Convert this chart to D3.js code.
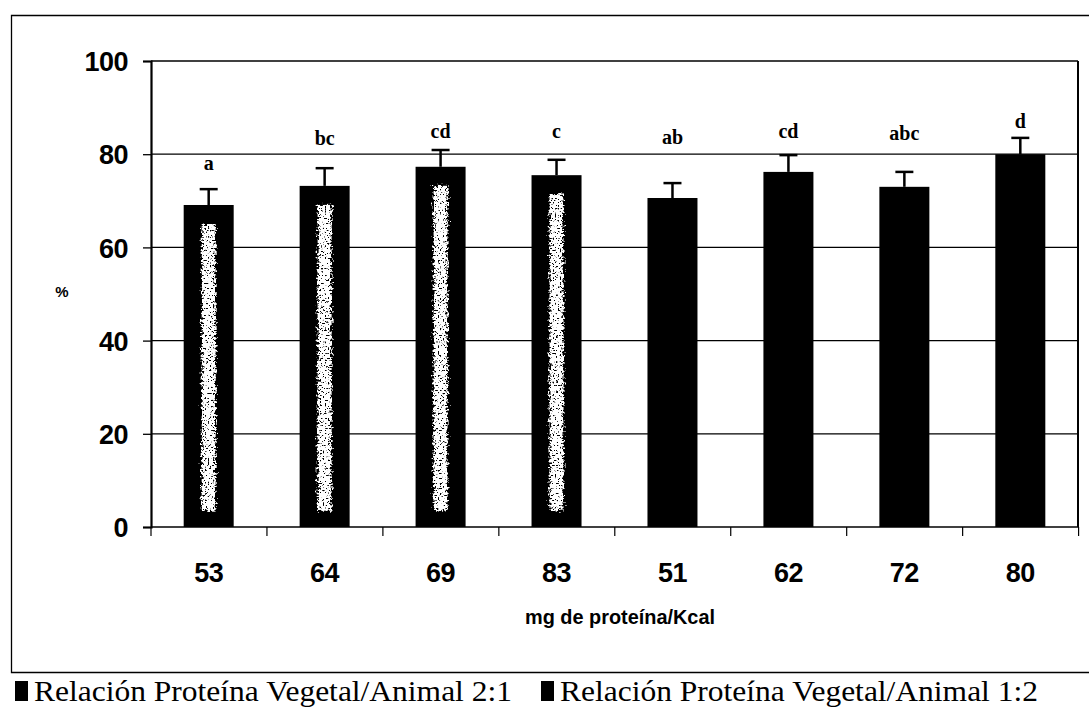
<!DOCTYPE html>
<html>
<head>
<meta charset="utf-8">
<script src="https://cdn.jsdelivr.net/npm/d3@7"></script>
<style>
  html, body { margin: 0; padding: 0; background: #fff; }
  svg { display: block; }
</style>
</head>
<body>
<svg id="chart" width="1089" height="716"></svg>
<script>
// Protein level (mg protein / Kcal) for each diet
const categories = ["53", "64", "69", "83", "51", "62", "72", "80"];
// Plant/animal protein ratio group of each diet
const groups = ["2:1", "2:1", "2:1", "2:1", "1:2", "1:2", "1:2", "1:2"];
// Mean percentage and upper error
const means = [69.1, 73.2, 77.3, 75.5, 70.6, 76.2, 73.0, 80.0];
const errors = [3.4, 3.8, 3.6, 3.3, 3.2, 3.6, 3.2, 3.5];
// Significance letters and the % level at which each is printed
const letters = ["a", "bc", "cd", "c", "ab", "cd", "abc", "d"];
const letterLevels = [78.1, 83.5, 85.0, 85.0, 83.7, 85.0, 84.5, 87.1];
const yTicks = [0, 20, 40, 60, 80, 100];
const legendLabels = ["Relación Proteína Vegetal/Animal 2:1", "Relación Proteína Vegetal/Animal 1:2"];

const svg = d3.select("#chart");
const plot = { left: 151, top: 61, right: 1078, bottom: 527 };

// outer chart border (right side runs off the page)
svg.append("path")
  .attr("d", "M1095,15.5 H11.5 V672.5 H1095")
  .attr("fill", "none").attr("stroke", "#000").attr("stroke-width", 1.3);

const x = d3.scaleBand().domain(categories)
  .range([plot.left, plot.right]).paddingInner(0.565).paddingOuter(0.28);
const y = d3.scaleLinear().domain([0, 100]).range([plot.bottom, plot.top]);

const g = svg.append("g");

// gridlines
g.selectAll("line.grid").data(yTicks.filter(t => t > 0 && t < 100)).join("line")
  .attr("x1", plot.left).attr("x2", plot.right)
  .attr("y1", d => y(d)).attr("y2", d => y(d))
  .attr("stroke", "#000").attr("stroke-width", 1.2);

// plot frame
g.append("line").attr("x1", plot.left).attr("x2", plot.right)
  .attr("y1", plot.top).attr("y2", plot.top).attr("stroke", "#000").attr("stroke-width", 1.3);
g.append("line").attr("x1", plot.right).attr("x2", plot.right)
  .attr("y1", plot.top).attr("y2", plot.bottom).attr("stroke", "#000").attr("stroke-width", 2);

// grainy filter for the light stripe of the 2:1 bars
const defs = svg.append("defs");
const f = defs.append("filter").attr("id", "grain")
  .attr("x", "-50%").attr("y", "-10%").attr("width", "200%").attr("height", "120%");
f.append("feTurbulence").attr("type", "fractalNoise").attr("baseFrequency", "0.4")
  .attr("numOctaves", 2).attr("seed", 3).attr("result", "noise");
f.append("feDisplacementMap").attr("in", "SourceGraphic").attr("in2", "noise")
  .attr("scale", 9).attr("xChannelSelector", "R").attr("yChannelSelector", "G")
  .attr("result", "rough");
f.append("feTurbulence").attr("type", "fractalNoise").attr("baseFrequency", "0.6")
  .attr("numOctaves", 1).attr("seed", 11).attr("result", "speck");
f.append("feColorMatrix").attr("in", "speck").attr("type", "matrix")
  .attr("values", "0 0 0 0 0  0 0 0 0 0  0 0 0 0 0  14 0 0 0 -4.6").attr("result", "holes");
f.append("feComposite").attr("in", "rough").attr("in2", "holes").attr("operator", "in");

// bars
const bw = 50;
const bars = g.selectAll("g.bar").data(categories).join("g").attr("class", "bar");
bars.append("rect")
  .attr("x", d => x(d) + x.bandwidth() / 2 - bw / 2)
  .attr("width", bw)
  .attr("y", (d, i) => y(means[i]))
  .attr("height", (d, i) => y(0) - y(means[i]))
  .attr("fill", "#000");

bars.filter((d, i) => groups[i] === "2:1").append("rect")
  .attr("x", d => x(d) + x.bandwidth() / 2 - 7)
  .attr("width", 14)
  .attr("y", (d, i) => y(means[i]) + 19)
  .attr("height", (d, i) => y(3.5) - y(means[i]) - 19)
  .attr("fill", "#fff")
  .attr("filter", "url(#grain)");

// error bars
bars.append("line")
  .attr("x1", d => x(d) + x.bandwidth() / 2).attr("x2", d => x(d) + x.bandwidth() / 2)
  .attr("y1", (d, i) => y(means[i])).attr("y2", (d, i) => y(means[i] + errors[i]))
  .attr("stroke", "#000").attr("stroke-width", 2.5);
bars.append("line")
  .attr("x1", d => x(d) + x.bandwidth() / 2 - 9).attr("x2", d => x(d) + x.bandwidth() / 2 + 9)
  .attr("y1", (d, i) => y(means[i] + errors[i])).attr("y2", (d, i) => y(means[i] + errors[i]))
  .attr("stroke", "#000").attr("stroke-width", 2.5);

// significance letters
bars.append("text")
  .attr("x", d => x(d) + x.bandwidth() / 2)
  .attr("y", (d, i) => y(letterLevels[i]))
  .attr("dy", "0.35em")
  .attr("text-anchor", "middle")
  .attr("font-family", "Liberation Serif, Times New Roman, serif")
  .attr("font-weight", "bold").attr("font-size", 20)
  .text((d, i) => letters[i]);

// y axis
const yAxis = d3.axisLeft(y).tickValues(yTicks).tickSize(8).tickPadding(15);
const ya = g.append("g").attr("transform", `translate(${plot.left},0)`).call(yAxis);
ya.select(".domain").attr("stroke-width", 2.2);
ya.selectAll(".tick line").attr("stroke-width", 1.3);
ya.selectAll(".tick text")
  .attr("dy", "0.36em")
  .attr("font-family", "Liberation Sans, Arial, sans-serif")
  .attr("font-weight", "bold").attr("font-size", 27).attr("letter-spacing", -0.5).attr("fill", "#000");

// x axis: ticks at category boundaries
const xa = g.append("g").attr("transform", `translate(0,${plot.bottom})`);
xa.append("line").attr("x1", plot.left).attr("x2", plot.right)
  .attr("stroke", "#000").attr("stroke-width", 1.5);
const step = x.step();
const bounds = d3.range(categories.length + 1).map(i => x(categories[0]) - x.paddingOuter() * step + i * step);
xa.selectAll("line.tick").data(bounds).join("line")
  .attr("x1", d => d).attr("x2", d => d).attr("y1", 0).attr("y2", 9)
  .attr("stroke", "#000").attr("stroke-width", 1.2);
xa.selectAll("text").data(categories).join("text")
  .attr("x", d => x(d) + x.bandwidth() / 2)
  .attr("y", 55)
  .attr("text-anchor", "middle")
  .attr("font-family", "Liberation Sans, Arial, sans-serif")
  .attr("font-weight", "bold").attr("font-size", 27).attr("letter-spacing", -0.5)
  .text(d => d);

// axis titles
svg.append("text").attr("x", 620).attr("y", 624).attr("text-anchor", "middle")
  .attr("font-family", "Liberation Sans, Arial, sans-serif")
  .attr("font-weight", "bold").attr("font-size", 20)
  .attr("textLength", 190).attr("lengthAdjust", "spacingAndGlyphs")
  .text("mg de proteína/Kcal");
svg.append("text").attr("x", 62).attr("y", 297).attr("text-anchor", "middle")
  .attr("font-family", "Liberation Sans, Arial, sans-serif")
  .attr("font-weight", "bold").attr("font-size", 15)
  .text("%");

// legend
const legendX = [15, 541];
const leg = svg.selectAll("g.legend").data(legendLabels).join("g").attr("class", "legend")
  .attr("transform", (d, i) => `translate(${legendX[i]},0)`);
leg.append("rect").attr("x", 0).attr("y", 681).attr("width", 13).attr("height", 20).attr("fill", "#000");
leg.append("text").attr("x", 19).attr("y", 701)
  .attr("font-family", "Liberation Serif, Times New Roman, serif")
  .attr("font-size", 30)
  .attr("textLength", 478).attr("lengthAdjust", "spacingAndGlyphs")
  .text(d => d);
</script>
</body>
</html>
